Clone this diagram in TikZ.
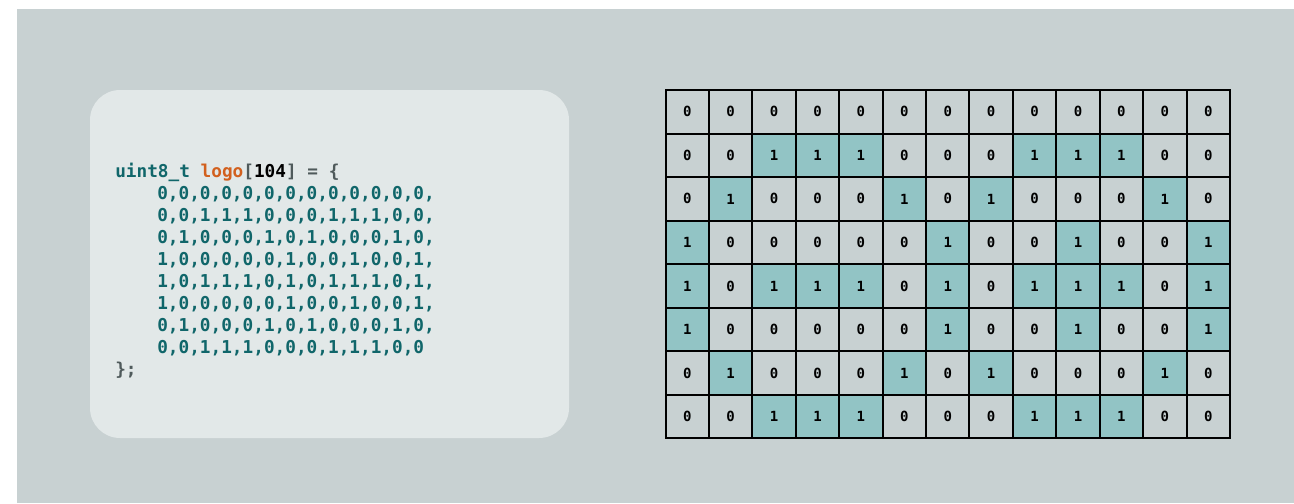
\documentclass[tikz,border=0pt]{standalone}
\usepackage{fontspec}
\setmonofont{DejaVu Sans Mono}
\usetikzlibrary{positioning}
\definecolor{bggray}{HTML}{C8D1D2}
\definecolor{boxgray}{HTML}{E2E8E8}
\definecolor{cell0}{HTML}{C8D1D2}
\definecolor{cell1}{HTML}{92C4C5}
\definecolor{codeteal}{HTML}{10666A}
\definecolor{codeorange}{HTML}{D2601E}
\definecolor{codepunct}{HTML}{4F5A5B}

\tikzset{
  cell/.style={draw=black, line width=1.5pt, inner sep=0pt,
               minimum width=32.56pt, minimum height=32.66pt,
               font=\ttfamily\bfseries\fontsize{10.5}{12}\selectfont},
  codeline/.style={anchor=base west, inner sep=0pt, text=codeteal,
               font=\ttfamily\bfseries\fontsize{13.3}{16}\selectfont}
}

\begin{document}
\begin{tikzpicture}[x=0.75pt, y=-0.75pt]
  \useasboundingbox (0,0) rectangle (1294,503);
  \fill[bggray] (17,9) rectangle (1294,503);

  % code panel
  \fill[boxgray, rounded corners=22.5pt] (90,90) rectangle (569,438);
  \node[codeline] (code-head) at (115,177) {uint8\_t \textcolor{codeorange}{logo}\textcolor{codepunct}{[}\textcolor{black}{104}\textcolor{codepunct}{] = \{}};
  \node[codeline, text=codepunct] (code-foot) at (115,375.9) {\};};

  % bitmap grid and matching code rows
  \foreach \row [count=\r from 0] in {
      {0,0,0,0,0,0,0,0,0,0,0,0,0},
      {0,0,1,1,1,0,0,0,1,1,1,0,0},
      {0,1,0,0,0,1,0,1,0,0,0,1,0},
      {1,0,0,0,0,0,1,0,0,1,0,0,1},
      {1,0,1,1,1,0,1,0,1,1,1,0,1},
      {1,0,0,0,0,0,1,0,0,1,0,0,1},
      {0,1,0,0,0,1,0,1,0,0,0,1,0},
      {0,0,1,1,1,0,0,0,1,1,1,0,0}} {
    \node[codeline] (code-\r) at (157,{199.1+22.1*\r}) {\row\ifnum\r<7 ,\fi};
    \foreach \v [count=\c from 0] in \row {
      \node[cell, fill=cell\v] (c-\r-\c) at ({665.5+43.42*(\c+0.5)},{90+43.56*(\r+0.5)}) {\v};
    }
  }
\end{tikzpicture}
\end{document}
